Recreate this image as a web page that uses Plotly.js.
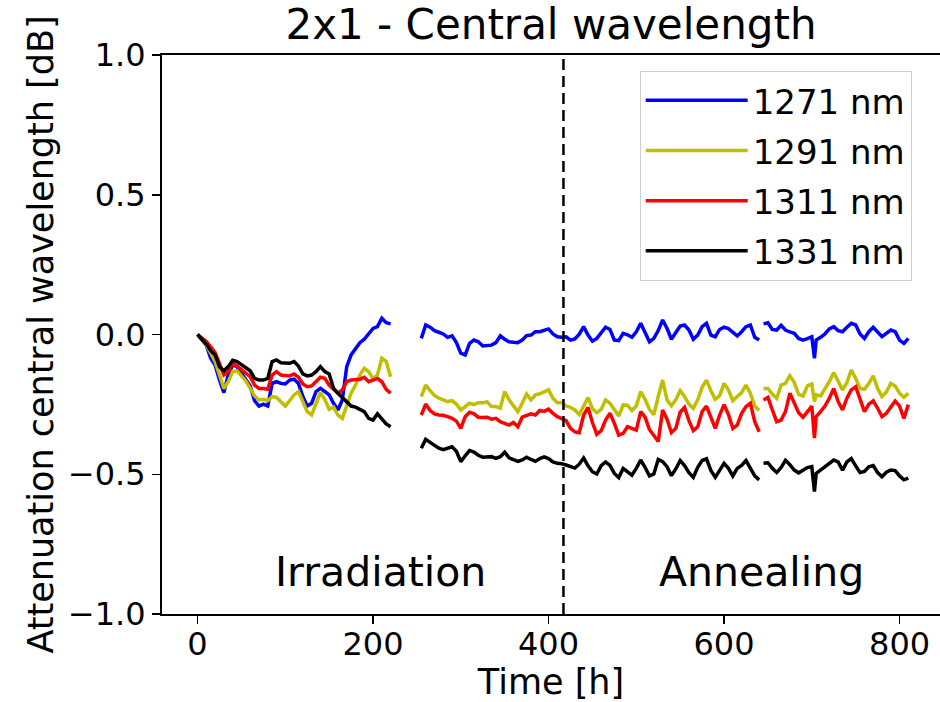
<!DOCTYPE html>
<html>
<head>
<meta charset="utf-8">
<script src="https://cdn.plot.ly/plotly-3.0.1.min.js"></script>
<style>html,body{margin:0;padding:0;background:#fff;}#chart{width:940px;height:702px;}</style>
</head>
<body>
<div id="chart"></div>
<script>
// Time [h]; null entries mark the breaks in the recorded data
const time = [
  0,5,10,15,20,25,30,35,40,45,50,55,60,65,70,75,80,85,90,95,100,105,110,115,120,125,130,135,140,145,150,155,160,165,170,175,180,185,190,195,200,205,210,215,220,
  237,
  255,260,265,270,275,280,285,290,295,300,305,310,315,320,325,330,335,340,345,350,355,360,365,370,375,380,385,390,395,400,405,410,415,420,425,430,435,440,445,450,455,460,465,470,475,480,485,490,495,500,505,510,515,520,525,530,535,
  540,545,550,555,560,565,570,575,580,585,590,595,600,605,610,615,620,625,630,635,640,
  642,
  645,650,655,660,665,670,675,680,685,690,695,700,
  703,
  705,710,715,720,725,730,735,740,745,750,755,760,765,770,775,780,785,790,795,800,805,810
];

const att1271 = [
  0,-0.02,-0.038,-0.085,-0.109,-0.163,-0.208,-0.145,-0.109,-0.115,-0.137,-0.16,-0.184,-0.237,-0.256,-0.249,-0.256,-0.175,-0.169,-0.175,-0.177,-0.163,-0.16,-0.175,-0.222,-0.256,-0.246,-0.204,-0.193,-0.204,-0.216,-0.246,-0.27,-0.234,-0.115,-0.073,-0.049,-0.029,-0.017,0.004,0.022,0.028,0.058,0.042,0.038,
  null,
  -0.014,0.034,0.026,0.014,0.008,0.002,-0.01,-0.005,-0.029,-0.067,-0.073,-0.032,-0.02,-0.026,-0.041,-0.041,-0.038,-0.029,-0.005,-0.017,-0.026,-0.028,-0.029,-0.02,-0.004,-0.002,0.01,0.01,0.016,0.02,0.002,-0.008,-0.01,-0.008,-0.02,-0.016,0.001,0.028,-0.002,-0.024,-0.014,0.006,0.026,0.018,-0.02,-0.022,0.004,-0.001,-0.01,0.01,0.04,0.007,-0.026,-0.014,0.014,0.052,0.022,
  -0.017,0.004,0.03,0.034,0.016,-0.017,-0.002,0.028,0.04,-0.002,-0.008,0.018,0.026,0.021,0.007,-0.005,0.01,0.028,0.034,-0.01,-0.02,
  null,
  0.038,0.042,0.018,0.016,0.033,0.016,0.009,0.004,-0.014,-0.02,-0.015,-0.008,
  -0.085,
  -0.02,-0.01,0.002,0.02,0.028,0.014,0.01,0.026,0.04,0.034,0.002,-0.014,0.01,0.026,0.01,-0.008,0.004,0.016,0.01,-0.02,-0.032,-0.014
];

const att1291 = [
  0,-0.02,-0.038,-0.067,-0.097,-0.145,-0.193,-0.169,-0.133,-0.13,-0.148,-0.166,-0.193,-0.22,-0.234,-0.232,-0.237,-0.222,-0.225,-0.24,-0.256,-0.237,-0.216,-0.204,-0.24,-0.276,-0.288,-0.246,-0.208,-0.232,-0.268,-0.26,-0.288,-0.30,-0.258,-0.21,-0.181,-0.145,-0.121,-0.133,-0.157,-0.145,-0.085,-0.097,-0.151,
  null,
  -0.222,-0.181,-0.201,-0.218,-0.228,-0.234,-0.24,-0.237,-0.249,-0.27,-0.256,-0.246,-0.251,-0.244,-0.244,-0.241,-0.258,-0.258,-0.264,-0.204,-0.234,-0.256,-0.276,-0.246,-0.213,-0.234,-0.216,-0.212,-0.206,-0.198,-0.228,-0.244,-0.243,-0.256,-0.261,-0.27,-0.286,-0.256,-0.226,-0.265,-0.28,-0.268,-0.234,-0.246,-0.272,-0.292,-0.252,-0.253,-0.272,-0.256,-0.204,-0.232,-0.268,-0.287,-0.222,-0.163,-0.234,
  -0.255,-0.234,-0.201,-0.222,-0.249,-0.264,-0.234,-0.189,-0.163,-0.201,-0.232,-0.219,-0.175,-0.198,-0.237,-0.222,-0.208,-0.181,-0.21,-0.256,-0.272,
  null,
  -0.193,-0.193,-0.213,-0.228,-0.181,-0.175,-0.148,-0.171,-0.214,-0.22,-0.184,-0.177,
  -0.24,
  -0.216,-0.22,-0.196,-0.169,-0.136,-0.169,-0.198,-0.172,-0.127,-0.157,-0.193,-0.196,-0.175,-0.148,-0.193,-0.222,-0.206,-0.175,-0.184,-0.21,-0.225,-0.21
];

const att1311 = [
  0,-0.014,-0.025,-0.044,-0.065,-0.103,-0.145,-0.133,-0.103,-0.113,-0.127,-0.141,-0.151,-0.181,-0.193,-0.193,-0.196,-0.145,-0.133,-0.145,-0.148,-0.148,-0.141,-0.153,-0.177,-0.187,-0.184,-0.169,-0.153,-0.157,-0.181,-0.196,-0.21,-0.198,-0.169,-0.163,-0.163,-0.16,-0.153,-0.169,-0.163,-0.157,-0.169,-0.196,-0.21,
  null,
  -0.288,-0.249,-0.272,-0.284,-0.288,-0.289,-0.294,-0.3,-0.31,-0.336,-0.294,-0.278,-0.284,-0.296,-0.297,-0.296,-0.303,-0.3,-0.312,-0.317,-0.324,-0.315,-0.33,-0.296,-0.289,-0.284,-0.288,-0.272,-0.275,-0.267,-0.282,-0.294,-0.301,-0.308,-0.336,-0.348,-0.351,-0.288,-0.261,-0.315,-0.357,-0.344,-0.306,-0.282,-0.318,-0.36,-0.354,-0.33,-0.336,-0.342,-0.276,-0.296,-0.34,-0.36,-0.383,-0.27,-0.303,
  -0.351,-0.336,-0.278,-0.261,-0.308,-0.344,-0.33,-0.276,-0.256,-0.296,-0.336,-0.288,-0.251,-0.286,-0.336,-0.324,-0.282,-0.258,-0.246,-0.312,-0.348,
  null,
  -0.234,-0.225,-0.27,-0.312,-0.306,-0.276,-0.21,-0.246,-0.28,-0.296,-0.276,-0.256,
  -0.371,
  -0.294,-0.276,-0.256,-0.228,-0.193,-0.24,-0.27,-0.228,-0.198,-0.187,-0.228,-0.276,-0.249,-0.237,-0.264,-0.294,-0.282,-0.261,-0.238,-0.256,-0.30,-0.251
];

const att1331 = [
  0,-0.017,-0.035,-0.058,-0.073,-0.115,-0.13,-0.115,-0.092,-0.097,-0.109,-0.121,-0.13,-0.157,-0.163,-0.163,-0.157,-0.097,-0.091,-0.101,-0.103,-0.103,-0.097,-0.113,-0.141,-0.148,-0.145,-0.133,-0.115,-0.133,-0.141,-0.193,-0.21,-0.225,-0.24,-0.256,-0.26,-0.268,-0.276,-0.30,-0.306,-0.284,-0.304,-0.32,-0.33,
  null,
  -0.407,-0.375,-0.386,-0.396,-0.407,-0.412,-0.408,-0.402,-0.418,-0.455,-0.434,-0.415,-0.421,-0.432,-0.439,-0.437,-0.437,-0.443,-0.437,-0.421,-0.441,-0.448,-0.454,-0.449,-0.439,-0.447,-0.454,-0.444,-0.438,-0.444,-0.456,-0.461,-0.462,-0.467,-0.473,-0.478,-0.464,-0.442,-0.47,-0.491,-0.499,-0.469,-0.456,-0.468,-0.497,-0.512,-0.479,-0.491,-0.503,-0.479,-0.449,-0.475,-0.506,-0.499,-0.447,-0.455,-0.473,
  -0.505,-0.481,-0.451,-0.469,-0.494,-0.511,-0.475,-0.451,-0.445,-0.486,-0.511,-0.487,-0.461,-0.479,-0.506,-0.479,-0.468,-0.451,-0.479,-0.506,-0.52,
  null,
  -0.461,-0.459,-0.479,-0.494,-0.476,-0.45,-0.466,-0.485,-0.495,-0.487,-0.476,-0.473,
  -0.562,
  -0.497,-0.485,-0.473,-0.459,-0.449,-0.456,-0.485,-0.456,-0.444,-0.47,-0.494,-0.49,-0.473,-0.469,-0.494,-0.509,-0.493,-0.485,-0.487,-0.506,-0.52,-0.514
];

const seriesNames = ["1271 nm", "1291 nm", "1311 nm", "1331 nm"];
const seriesColors = ["#0000ff", "#bfbf00", "#ff0000", "#000000"];
const xTicks = [0, 200, 400, 600, 800];
const yTicks = [-1, -0.5, 0, 0.5, 1];
const yTickText = ["\u22121.0", "\u22120.5", "0.0", "0.5", "1.0"];
const annealStart = 417;
const phaseLabels = ["Irradiation", "Annealing"];
const phaseLabelX = [86, 524];
const phaseLabelY = -0.85;

const FONT = "DejaVu Sans, Arial, sans-serif";
const seriesValues = [att1271, att1291, att1311, att1331];

const traces = seriesValues.map((vals, i) => ({
  type: "scatter",
  mode: "lines",
  x: time,
  y: vals,
  name: seriesNames[i],
  legendgroup: "g" + i,
  connectgaps: false,
  line: { color: seriesColors[i], width: 3.5 }
}));

const layout = {
  width: 940,
  height: 702,
  paper_bgcolor: "#ffffff",
  plot_bgcolor: "#ffffff",
  margin: { l: 162, r: 0, t: 55, b: 88, pad: 0 },
  font: { family: FONT, color: "#000000", size: 32 },
  title: {
    text: "2x1 - Central wavelength",
    font: { family: FONT, size: 42, color: "#000000" },
    x: 0.5, xref: "paper", xanchor: "center",
    y: 0.965, yref: "container", yanchor: "middle"
  },
  xaxis: {
    range: [-40.5, 846.1],
    tickvals: xTicks,
    ticktext: xTicks.map(String),
    ticks: "outside", ticklen: 8, tickwidth: 1.5, tickcolor: "#000",
    ticklabelstandoff: -7,
    showline: true, linecolor: "#000", linewidth: 2, mirror: true,
    showgrid: false, zeroline: false,
    tickfont: { family: FONT, size: 32, color: "#000" },
    title: { text: "Time [h]", font: { family: FONT, size: 35, color: "#000" }, standoff: 10 },
    automargin: false
  },
  yaxis: {
    range: [-1, 1],
    tickvals: yTicks,
    ticktext: yTickText,
    ticks: "outside", ticklen: 8, tickwidth: 1.5, tickcolor: "#000",
    showline: true, linecolor: "#000", linewidth: 2, mirror: false,
    showgrid: false, zeroline: false,
    tickfont: { family: FONT, size: 32, color: "#000" },
    title: { text: "Attenuation central wavelength [dB]", font: { family: FONT, size: 35, color: "#000" }, standoff: 4 },
    automargin: false
  },
  showlegend: true,
  legend: {
    x: 0.614, xanchor: "left",
    y: 0.972, yanchor: "top",
    font: { family: FONT, size: 34, color: "#000" },
    bgcolor: "rgba(255,255,255,0.8)",
    bordercolor: "#d0d0d0", borderwidth: 1,
    itemwidth: 102,
    tracegroupgap: 3
  },
  shapes: [{
    type: "line", xref: "x", yref: "paper",
    x0: annealStart, x1: annealStart, y0: 0, y1: 1,
    line: { color: "#000", width: 2.5, dash: "11px,6px" }
  }],
  annotations: phaseLabels.map((t, i) => ({
    text: t, x: phaseLabelX[i], y: phaseLabelY, xref: "x", yref: "y",
    xanchor: "left", yanchor: "middle", showarrow: false,
    font: { family: FONT, size: 41, color: "#000" }
  }))
};

Plotly.newPlot("chart", traces, layout, { staticPlot: true, displayModeBar: false });
</script>
</body>
</html>
